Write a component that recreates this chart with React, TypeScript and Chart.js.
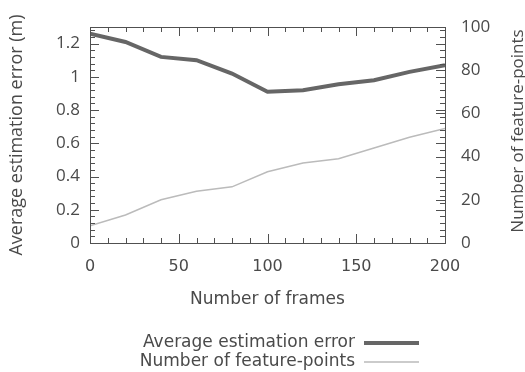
import React, { useEffect, useRef } from "react";
import { Chart, registerables } from "chart.js";

Chart.register(...registerables);

const frames = [0, 20, 40, 60, 80, 100, 120, 140, 160, 180, 200];
const avgError = [1.26, 1.21, 1.12, 1.1, 1.02, 0.91, 0.92, 0.955, 0.98, 1.03, 1.07];
const featurePoints = [8, 13, 20, 24, 26, 33, 37, 39, 44, 49, 53];
const seriesNames = ["Average estimation error", "Number of feature-points"];
const xTicks = [0, 50, 100, 150, 200];
const yTicks = [0, 0.2, 0.4, 0.6, 0.8, 1, 1.2];
const y2Ticks = [0, 20, 40, 60, 80, 100];
const xTitle = "Number of frames";
const yTitle = "Average estimation error (m)";
const y2Title = "Number of feature-points";

const TEXT = "#4a4a4a";
const BORDER = "#505050";

const boxTicks = {
  id: "boxTicks",
  afterDraw(chart: any) {
    const { ctx, chartArea: a, scales } = chart;
    const sx = scales.x, sy = scales.y, sy2 = scales.y2;
    const L = Math.round(a.left), R = Math.round(a.right), T = Math.round(a.top), B = Math.round(a.bottom);
    ctx.save();
    ctx.fillStyle = BORDER;
    for (let v = 0; v <= 200; v += 10) {
      const px = Math.round(sx.getPixelForValue(v));
      const len = v % 50 === 0 ? 9 : 5;
      ctx.fillRect(px, B - len, 1, len);
      ctx.fillRect(px, T, 1, len);
    }
    for (let i = 0; i <= 32; i++) {
      const py = Math.round(sy.getPixelForValue(i * 0.04));
      const len = i % 5 === 0 ? 9 : 5;
      ctx.fillRect(L, py, len, 1);
      ctx.fillRect(R - len, py, len, 1);
    }
    for (let v = 0; v <= 100; v += 20) {
      const py = Math.round(sy2.getPixelForValue(v));
      ctx.fillRect(R - 9, py, 9, 1);
    }
    ctx.fillRect(L, T, R - L + 1, 1);
    ctx.fillRect(L, B, R - L + 1, 1);
    ctx.fillRect(L, T, 1, B - T + 1);
    ctx.fillRect(R, T, 1, B - T + 1);

    ctx.fillStyle = TEXT;
    ctx.font = "17px 'Open Sans'";
    ctx.textAlign = "center";
    ctx.textBaseline = "middle";
    ctx.save();
    ctx.translate(518, (T + B) / 2 - 4);
    ctx.rotate(-Math.PI / 2);
    ctx.fillText(y2Title, 0, 0);
    ctx.restore();

    ctx.font = "17px 'DejaVu Sans'";
    ctx.textAlign = "right";
    const rows = [343, 362];
    chart.data.datasets.forEach((ds: any, i: number) => {
      ctx.fillStyle = TEXT;
      ctx.fillText(ds.label, 355, rows[i]);
      ctx.fillStyle = ds.borderColor;
      const w = ds.borderWidth;
      ctx.fillRect(364, rows[i] - w / 2, 55, w);
    });
    ctx.restore();
  },
};

const setTicks = (vals: number[]) => (s: any) => {
  s.ticks = vals.map((v) => ({ value: v }));
};

export default function App() {
  const ref = useRef<HTMLCanvasElement>(null);
  useEffect(() => {
    if (!ref.current) return;
    const chart = new Chart(ref.current, {
      type: "line",
      data: {
        labels: frames,
        datasets: [
          {
            label: seriesNames[0],
            data: frames.map((f, i) => ({ x: f, y: avgError[i] })),
            borderColor: "#666666",
            borderWidth: 4,
            pointRadius: 0,
            yAxisID: "y",
            tension: 0,
          },
          {
            label: seriesNames[1],
            data: frames.map((f, i) => ({ x: f, y: featurePoints[i] })),
            borderColor: "#bbbbbb",
            borderWidth: 1.5,
            pointRadius: 0,
            yAxisID: "y2",
            tension: 0,
          },
        ],
      },
      options: {
        responsive: false,
        animation: false,
        layout: { padding: { top: 27, bottom: 62, left: 0, right: 0 } },
        plugins: { legend: { display: false }, tooltip: { enabled: false } },
        scales: {
          x: {
            type: "linear",
            min: 0,
            max: 200,
            afterBuildTicks: setTicks(xTicks),
            grid: { display: false, drawTicks: false },
            border: { display: false },
            ticks: { padding: 14, autoSkip: false, color: TEXT, font: { family: "DejaVu Sans", size: 16 } },
            title: { display: true, text: xTitle, color: TEXT, font: { family: "DejaVu Sans", size: 17 }, padding: { top: 8, bottom: 0 } },
            afterFit: (s: any) => { s.height = 67; },
          },
          y: {
            position: "left",
            min: 0,
            max: 1.3,
            afterBuildTicks: setTicks(yTicks),
            grid: { display: false, drawTicks: false },
            border: { display: false },
            ticks: {
              padding: 10,
              autoSkip: false,
              color: TEXT,
              font: { family: "Open Sans", size: 17 },
              callback: (v: any) => String(Math.round(Number(v) * 10) / 10),
            },
            title: { display: true, text: yTitle, color: TEXT, font: { family: "Open Sans", size: 18, lineHeight: 1 }, padding: { top: 8, bottom: 0 } },
            afterFit: (s: any) => { s.width = 90; },
          },
          y2: {
            position: "right",
            min: 0,
            max: 100,
            afterBuildTicks: setTicks(y2Ticks),
            grid: { display: false, drawTicks: false },
            border: { display: false },
            ticks: { padding: 16, autoSkip: false, color: TEXT, font: { family: "Open Sans", size: 17 } },
            title: { display: false, text: y2Title },
            afterFit: (s: any) => { s.width = 80; },
          },
        },
      },
      plugins: [boxTicks],
    });
    return () => chart.destroy();
  }, []);
  return (
    <canvas
      ref={ref}
      width={525}
      height={372}
      style={{ position: "fixed", left: 0, top: 0, width: 525, height: 372 }}
    />
  );
}
